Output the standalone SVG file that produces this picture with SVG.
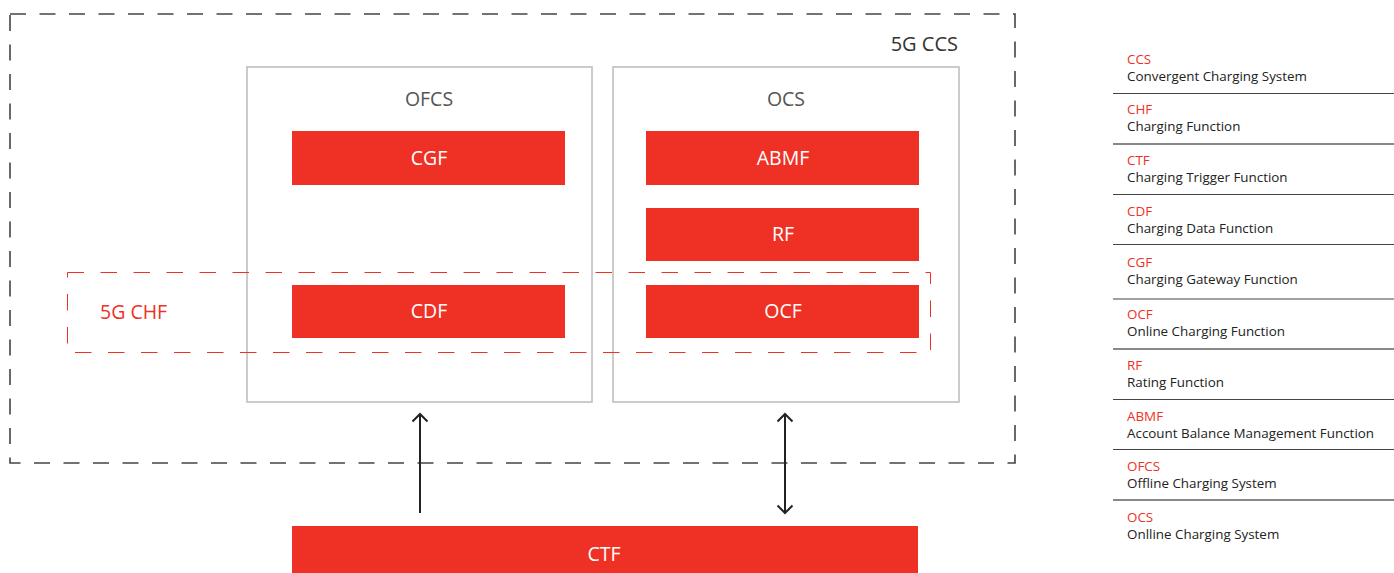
<svg xmlns="http://www.w3.org/2000/svg" width="1394" height="573" viewBox="0 0 1394 573">
<defs>
<style>
text{font-family:"Open Sans","Liberation Sans",sans-serif;}
.red{fill:#ee3124;}
.box{fill:#fff;stroke:#bbbbbb;stroke-width:1.5;}
.wt{fill:#fff;font-size:19.5px;text-anchor:middle;}
.gt{fill:#555;font-size:19.5px;text-anchor:middle;}
.lt{fill:#ee3124;font-size:13.4px;}
.ld{fill:#222;font-size:13.4px;}
.ln{stroke:#444;stroke-width:1.2;}
.lg{stroke:#888;stroke-width:2;}
.arr{stroke:#222;stroke-width:2;fill:none;}
</style>
<marker id="ah" viewBox="-10 -10 20 20" refX="0" refY="0" markerWidth="20" markerHeight="20" markerUnits="userSpaceOnUse" orient="auto-start-reverse">
<path d="M-7.5 -7.5 L0 0 L-7.5 7.5" fill="none" stroke="#222" stroke-width="2"/>
</marker>
</defs>
<rect width="1394" height="573" fill="#fff"/>
<g id="ccs">
<rect x="10" y="14" width="1005" height="449" fill="none" stroke="#444" stroke-width="1.6" stroke-dasharray="16,13.5"/>
<text x="958" y="51" font-size="20" fill="#333" text-anchor="end">5G CCS</text>
</g>
<g id="ofcs">
<rect class="box" x="247" y="67" width="345" height="335"/>
<text class="gt" x="429" y="106">OFCS</text>
</g>
<g id="ocs">
<rect class="box" x="613" y="67" width="346" height="335"/>
<text class="gt" x="786" y="106">OCS</text>
</g>
<g id="cgf"><rect class="red" x="292" y="131" width="273" height="54"/><text class="wt" x="429" y="165">CGF</text></g>
<g id="abmf"><rect class="red" x="646" y="131" width="273" height="54"/><text class="wt" x="783" y="165">ABMF</text></g>
<g id="rf"><rect class="red" x="646" y="208" width="273" height="53"/><text class="wt" x="783" y="241">RF</text></g>
<g id="cdf"><rect class="red" x="292" y="285" width="273" height="53"/><text class="wt" x="429" y="318">CDF</text></g>
<g id="ocf"><rect class="red" x="646" y="285" width="273" height="53"/><text class="wt" x="783" y="318">OCF</text></g>
<g id="chf">
<rect x="67.5" y="272.5" width="863" height="80" fill="none" stroke="#ee3124" stroke-width="1" stroke-dasharray="16.5,16.5"/>
<text x="100" y="319" font-size="19.5" fill="#ee3124">5G CHF</text>
</g>
<g id="ctf"><rect class="red" x="292" y="526" width="626" height="47"/><text class="wt" x="604" y="561">CTF</text></g>
<g id="connectors">
<line class="arr" x1="420" y1="513" x2="420" y2="414" marker-end="url(#ah)"/>
<line class="arr" x1="785" y1="513" x2="785" y2="414" marker-start="url(#ah)" marker-end="url(#ah)"/>
</g>
<g id="legend">
<text class="lt" x="1127" y="64">CCS</text><text class="ld" x="1127" y="81">Convergent Charging System</text>
<line class="ln" x1="1113" y1="93.5" x2="1394" y2="93.5"/>
<text class="lt" x="1127" y="114">CHF</text><text class="ld" x="1127" y="131">Charging Function</text>
<line class="lg" x1="1113" y1="144" x2="1394" y2="144"/>
<text class="lt" x="1127" y="165">CTF</text><text class="ld" x="1127" y="182">Charging Trigger Function</text>
<line class="ln" x1="1113" y1="194.5" x2="1394" y2="194.5"/>
<text class="lt" x="1127" y="216">CDF</text><text class="ld" x="1127" y="233">Charging Data Function</text>
<line class="ln" x1="1113" y1="244.5" x2="1394" y2="244.5"/>
<text class="lt" x="1127" y="267">CGF</text><text class="ld" x="1127" y="284">Charging Gateway Function</text>
<line class="ln" x1="1113" y1="299" x2="1394" y2="299"/>
<text class="lt" x="1127" y="319">OCF</text><text class="ld" x="1127" y="336">Online Charging Function</text>
<line class="lg" x1="1113" y1="349" x2="1394" y2="349"/>
<text class="lt" x="1127" y="370">RF</text><text class="ld" x="1127" y="387">Rating Function</text>
<line class="ln" x1="1113" y1="399.5" x2="1394" y2="399.5"/>
<text class="lt" x="1127" y="421">ABMF</text><text class="ld" x="1127" y="438">Account Balance Management Function</text>
<line class="ln" x1="1113" y1="449.5" x2="1394" y2="449.5"/>
<text class="lt" x="1127" y="471">OFCS</text><text class="ld" x="1127" y="488">Offline Charging System</text>
<line class="lg" x1="1113" y1="500" x2="1394" y2="500"/>
<text class="lt" x="1127" y="522">OCS</text><text class="ld" x="1127" y="539">Onlline Charging System</text>
</g>
</svg>
